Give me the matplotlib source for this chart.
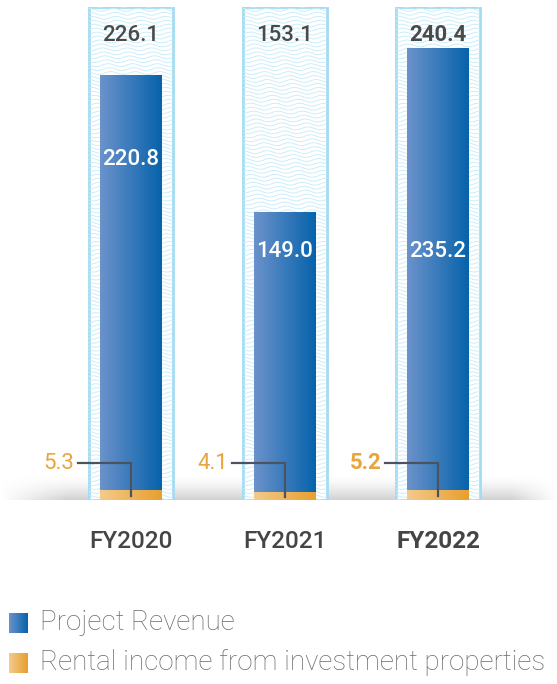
import numpy as np
import matplotlib
matplotlib.use("Agg")
import matplotlib.pyplot as plt
from matplotlib.colors import to_rgb
from matplotlib.patches import Rectangle

# data
years = ["FY2020", "FY2021", "FY2022"]
project_revenue = [220.8, 149.0, 235.2]
rental_income = [5.3, 4.1, 5.2]
totals = [226.1, 153.1, 240.4]

# layout helpers (not data)
inner_label_y = [181, 132, 132]
top_label_y = 247
leader_y = 19.5
ytop = 262

plt.rcParams["font.family"] = ["Roboto", "DejaVu Sans"]

W, H = 557, 684
fig = plt.figure(figsize=(W / 100, H / 100), dpi=100)
ax = fig.add_axes([0, (H - 500) / H, 1, 493 / H])
ax.set_xlim(-131 / 153.5, (W - 131) / 153.5)
ax.set_ylim(0, ytop)
ax.axis("off")

x = np.arange(len(years))
bar_w = 62 / 153.5
frame_w = 84 / 153.5


def hgrad(c1, c2, n=64):
    a, b = np.array(to_rgb(c1)), np.array(to_rgb(c2))
    t = np.linspace(0, 1, n)[None, :, None]
    return a + (b - a) * t


# grey shadow at the base
nx, ny = 300, 40
sx = np.linspace(0, 1, nx)
sy = np.linspace(0, 1, ny)
hor = np.clip(np.minimum(sx / 0.12, (1 - sx) / 0.08), 0, 1)
ver = sy[:, None] ** 1.5
shadow = np.zeros((ny, nx, 4))
shadow[..., :3] = to_rgb("#c6c6c6")
shadow[..., 3] = ver * hor[None, :] * 0.8
xl = ax.get_xlim()
ax.imshow(shadow, extent=[xl[0], xl[1], 0, 13], origin="upper", aspect="auto", zorder=0)

# frames with wavy pattern
for xi in x:
    fr = Rectangle((xi - frame_w / 2, 0), frame_w, ytop, facecolor="white",
                   edgecolor="#a3dcf2", lw=2, zorder=1)
    ax.add_patch(fr)
    xs = np.linspace(xi - frame_w / 2, xi + frame_w / 2, 120)
    for k, y0 in enumerate(np.arange(-2, ytop + 3, 2.1)):
        ys = y0 + 0.75 * np.sin(2 * np.pi * (xs - xi) / 0.16 + k * 0.35)
        ln, = ax.plot(xs, ys, color="#c6ebf9", lw=0.6, zorder=1.5)
        ln.set_clip_path(fr)

# stacked bars with gradient fill
rent = ax.bar(x, rental_income, bar_w, color="none", zorder=2)
proj = ax.bar(x, project_revenue, bar_w, bottom=rental_income, color="none", zorder=2)
for p in rent:
    im = ax.imshow(hgrad("#f3ca8c", "#e89f2e"), extent=[p.get_x(), p.get_x() + p.get_width(),
                   p.get_y(), p.get_y() + p.get_height()], aspect="auto", zorder=2)
    im.set_clip_path(p)
for p in proj:
    im = ax.imshow(hgrad("#6b92cb", "#0763ab"), extent=[p.get_x(), p.get_x() + p.get_width(),
                   p.get_y(), p.get_y() + p.get_height()], aspect="auto", zorder=2)
    im.set_clip_path(p)

# labels
for i, xi in enumerate(x):
    bold = i == len(x) - 1
    ax.text(xi, top_label_y, f"{totals[i]:.1f}", ha="center", va="center", fontsize=16,
            color="#4a4a4a", fontweight="bold" if bold else "medium", zorder=4)
    ax.text(xi, inner_label_y[i], f"{project_revenue[i]:.1f}", ha="center", va="center",
            fontsize=16, color="white", fontweight="medium", zorder=4)
    ax.text(xi - 0.37, leader_y, f"{rental_income[i]:.1f}", ha="right", va="center",
            fontsize=16, color="#e9a43b", fontweight="bold" if bold else "normal", zorder=4)
    ax.plot([xi - 0.345, xi, xi], [leader_y, leader_y, rental_income[i] * 0.45],
            color="#4b5260", lw=1.6, zorder=5, solid_joinstyle="miter")
    ax.text(xi, -22, years[i], ha="center", va="center", fontsize=17.5, color="#454545",
            fontweight="bold" if bold else "medium")

# legend
legend_items = [("Project Revenue", "#6b92cb", "#0763ab", 623),
                ("Rental income from investment properties", "#f3ca8c", "#e89f2e", 663)]
for label, c1, c2, yc in legend_items:
    sq = fig.add_axes([9 / W, (H - yc - 10) / H, 19 / W, 20 / H])
    sq.imshow(hgrad(c1, c2), aspect="auto")
    sq.axis("off")
    fig.text(40 / W, (H - yc) / H, label, ha="left", va="center", fontsize=20,
             color="#6b6b6b", fontweight="light")

fig.savefig("out.png", dpi=100)
